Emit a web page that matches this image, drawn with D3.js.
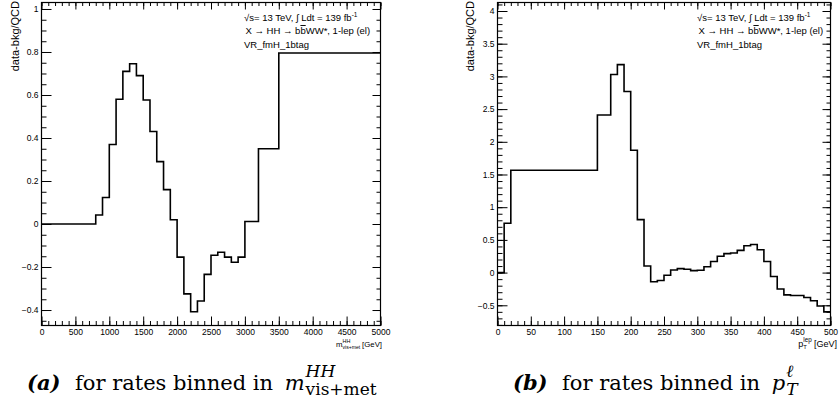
<!DOCTYPE html>
<html>
<head>
<meta charset="utf-8">
<script src="https://cdn.jsdelivr.net/npm/d3@7/dist/d3.min.js"></script>
<style>
  html, body { margin: 0; padding: 0; background: #ffffff; }
  #chart { width: 839px; height: 417px; }
  text { font-family: "Liberation Sans", Arial, Helvetica, sans-serif; fill: #000; }
  .cap { font-family: "DejaVu Serif", "Liberation Serif", serif; }
</style>
</head>
<body>
<div id="chart"></div>
<script>
// ---- panel (a): rates binned in m_vis+met^HH ----
const mEdges = [0, 800, 900, 1000, 1100, 1200, 1300, 1400, 1500, 1600, 1700, 1800, 1900,
  2000, 2100, 2200, 2300, 2400, 2500, 2600, 2700, 2800, 2900, 3000, 3200, 3500, 5000];
const mValues = [0, 0.042, 0.123, 0.37, 0.58, 0.71, 0.745, 0.69, 0.577, 0.43, 0.29, 0.16, 0.02,
  -0.154, -0.325, -0.408, -0.358, -0.234, -0.145, -0.131, -0.154, -0.178, -0.154, 0.012, 0.35, 0.795];
const mXTicks = [0, 500, 1000, 1500, 2000, 2500, 3000, 3500, 4000, 4500, 5000];
const mYTicks = [-0.4, -0.2, 0, 0.2, 0.4, 0.6, 0.8, 1];

// ---- panel (b): rates binned in pT of the lepton ----
const ptEdges = [0, 10, 20, 150, 170, 180, 190, 200, 210, 220, 230, 240, 250, 260, 270, 280, 290,
  300, 310, 320, 330, 340, 350, 360, 370, 380, 390, 400, 410, 420, 430, 440, 450, 460, 470, 480, 490, 500];
const ptValues = [0, 0.755, 1.566, 2.41, 3.03, 3.18, 2.77, 1.87, 0.81, 0.1, -0.14, -0.12, -0.04,
  0.04, 0.06, 0.05, 0.03, 0.035, 0.09, 0.17, 0.25, 0.29, 0.30, 0.34, 0.41, 0.43, 0.35, 0.17,
  -0.06, -0.25, -0.34, -0.35, -0.35, -0.38, -0.43, -0.51, -0.6];
const ptXTicks = [0, 50, 100, 150, 200, 250, 300, 350, 400, 450, 500];
const ptYTicks = [-0.5, 0, 0.5, 1, 1.5, 2, 2.5, 3, 3.5, 4];

const yTitle = "data-bkg/QCD";
const legendLines = ["VR_fmH_1btag"];

const svg = d3.select("#chart").append("svg")
  .attr("width", 839).attr("height", 417);
svg.append("rect").attr("width", 839).attr("height", 417).attr("fill", "#fff");

const fmt = v => String(v).replace("-", "\u2212");

function drawPanel(p) {
  const g = svg.append("g");
  const x = d3.scaleLinear().domain(p.xDomain).range([p.x0, p.x1]);
  const y = d3.scaleLinear().domain(p.yDomain).range([p.y1, p.y0]);

  const minorX = d3.range(p.xDomain[0], p.xDomain[1] + 1e-9, p.xMinor);
  const minorY = d3.range(Math.ceil(p.yDomain[0] / p.yMinor) * p.yMinor, p.yDomain[1], p.yMinor)
    .map(v => +v.toFixed(4));

  const styleAxis = sel => sel
    .call(s => s.select(".domain").remove())
    .call(s => s.selectAll("line").attr("stroke", "#000").attr("stroke-width", 1))
    .call(s => s.selectAll("text").style("font-size", "8.5px").attr("fill", "#000"));

  // minor ticks
  g.append("g").attr("transform", `translate(0,${p.y1})`)
    .call(d3.axisBottom(x).tickValues(minorX).tickSize(-4.5).tickSizeOuter(0).tickFormat(""))
    .call(styleAxis);
  g.append("g").attr("transform", `translate(0,${p.y0})`)
    .call(d3.axisTop(x).tickValues(minorX).tickSize(-3.5).tickSizeOuter(0).tickFormat(""))
    .call(styleAxis);
  g.append("g").attr("transform", `translate(${p.x0},0)`)
    .call(d3.axisLeft(y).tickValues(minorY).tickSize(-5).tickSizeOuter(0).tickFormat(""))
    .call(styleAxis);
  g.append("g").attr("transform", `translate(${p.x1},0)`)
    .call(d3.axisRight(y).tickValues(minorY).tickSize(-4).tickSizeOuter(0).tickFormat(""))
    .call(styleAxis);

  // major ticks + labels
  g.append("g").attr("transform", `translate(0,${p.y1})`)
    .call(d3.axisBottom(x).tickValues(p.xTicks).tickSize(-9).tickSizeOuter(0).tickPadding(3).tickFormat(fmt))
    .call(styleAxis);
  g.append("g").attr("transform", `translate(0,${p.y0})`)
    .call(d3.axisTop(x).tickValues(p.xTicks).tickSize(-7).tickSizeOuter(0).tickFormat(""))
    .call(styleAxis);
  g.append("g").attr("transform", `translate(${p.x0},0)`)
    .call(d3.axisLeft(y).tickValues(p.yTicks).tickSize(-10).tickSizeOuter(0).tickPadding(3).tickFormat(fmt))
    .call(styleAxis);
  g.append("g").attr("transform", `translate(${p.x1},0)`)
    .call(d3.axisRight(y).tickValues(p.yTicks).tickSize(-8).tickSizeOuter(0).tickFormat(""))
    .call(styleAxis);

  // frame
  g.append("rect")
    .attr("x", p.x0).attr("y", p.y0)
    .attr("width", p.x1 - p.x0).attr("height", p.y1 - p.y0)
    .attr("fill", "none").attr("stroke", "#000").attr("stroke-width", 1.2);

  // histogram
  const pts = p.values.map((v, i) => [p.edges[i], v]);
  pts.push([p.edges[p.edges.length - 1], p.values[p.values.length - 1]]);
  g.append("path")
    .datum(pts)
    .attr("fill", "none")
    .attr("stroke", "#000")
    .attr("stroke-width", 1.6)
    .attr("d", d3.line().x(d => x(d[0])).y(d => y(d[1])).curve(d3.curveStepAfter));

  // y title
  g.append("text")
    .attr("transform", `translate(${p.yTitleX},1) rotate(-90)`)
    .attr("text-anchor", "end")
    .style("font-size", "11px")
    .text(yTitle);

  // legend
  const lx = p.legendX;
  const l1 = g.append("text").attr("x", lx).attr("y", 20.5).style("font-size", "9.5px");
  l1.append("tspan").text("\u221As= 13 TeV,   \u222B Ldt = 139 fb");
  l1.append("tspan").attr("dy", -3.5).style("font-size", "6.5px").text("-1");
  const l2 = g.append("text").attr("x", lx + 1.5).attr("y", 34).style("font-size", "9.5px");
  l2.append("tspan").text("X \u2192 HH \u2192 b");
  l2.append("tspan").style("text-decoration", "overline").text("b");
  l2.append("tspan").text("WW*, 1-lep (el)");
  g.append("text").attr("x", lx).attr("y", 47.5).style("font-size", "9.5px").text(legendLines[0]);

  // x title (main symbol with stacked super/subscript)
  const fs = p.xTitleSize;
  const base = 347;
  const unit = g.append("text").attr("x", p.xTitleEnd).attr("y", base)
    .attr("text-anchor", "end").style("font-size", fs + "px").text(" [GeV]");
  const unitW = unit.node().getComputedTextLength() + fs * 0.25;
  const sup = g.append("text").attr("y", base - fs * 0.55).style("font-size", (fs * 0.7) + "px").text(p.xSup);
  const sub = g.append("text").attr("y", base + fs * 0.2).style("font-size", (fs * 0.65) + "px").text(p.xSub);
  const scrW = Math.max(sup.node().getComputedTextLength(), sub.node().getComputedTextLength());
  const scrX = p.xTitleEnd - unitW - scrW;
  sup.attr("x", scrX);
  sub.attr("x", scrX);
  g.append("text").attr("x", scrX).attr("y", base).attr("text-anchor", "end")
    .style("font-size", fs + "px").text(p.xMain);
}

drawPanel({
  x0: 41.5, x1: 380.5, y0: 2.5, y1: 325.5,
  xDomain: [0, 5000], yDomain: [-0.472, 1.0302],
  xTicks: mXTicks, yTicks: mYTicks, xMinor: 100, yMinor: 0.05,
  edges: mEdges, values: mValues,
  yTitleX: 18.5, legendX: 244,
  xMain: "m", xSup: "HH", xSub: "vis+met", xTitleEnd: 382, xTitleSize: 7.8
});

drawPanel({
  x0: 497.5, x1: 830.5, y0: 2.5, y1: 325.5,
  xDomain: [0, 500], yDomain: [-0.809, 4.13],
  xTicks: ptXTicks, yTicks: ptYTicks, xMinor: 10, yMinor: 0.1,
  edges: ptEdges, values: ptValues,
  yTitleX: 474, legendX: 697,
  xMain: "p", xSup: "lep", xSub: "T", xTitleEnd: 837, xTitleSize: 9
});

// captions
function caption(label, x, restX, main, sym, sup, sub, subItalic) {
  const base = 390;
  svg.append("text").attr("class", "cap").attr("x", x).attr("y", base)
    .style("font-size", "21px").style("font-weight", "bold").style("font-style", "italic")
    .text(label);
  const t = svg.append("text").attr("class", "cap").attr("x", restX).attr("y", base)
    .style("font-size", "21px");
  t.append("tspan").text(main);
  t.append("tspan").attr("dx", 5).style("font-style", "italic").text(sym);
  const endX = restX + t.node().getComputedTextLength() + 6;
  svg.append("text").attr("class", "cap").attr("x", endX).attr("y", base - 13)
    .style("font-size", "17px").style("font-style", "italic").text(sup);
  svg.append("text").attr("class", "cap").attr("x", endX).attr("y", base + 5)
    .style("font-size", "17px").style("font-style", subItalic ? "italic" : "normal").text(sub);
}
caption("(a)", 27, 75, "for rates binned in ", "m", "HH", "vis+met", false);
caption("(b)", 513, 562, "for rates binned in ", "p", "\u2113", "T", true);
</script>
</body>
</html>
